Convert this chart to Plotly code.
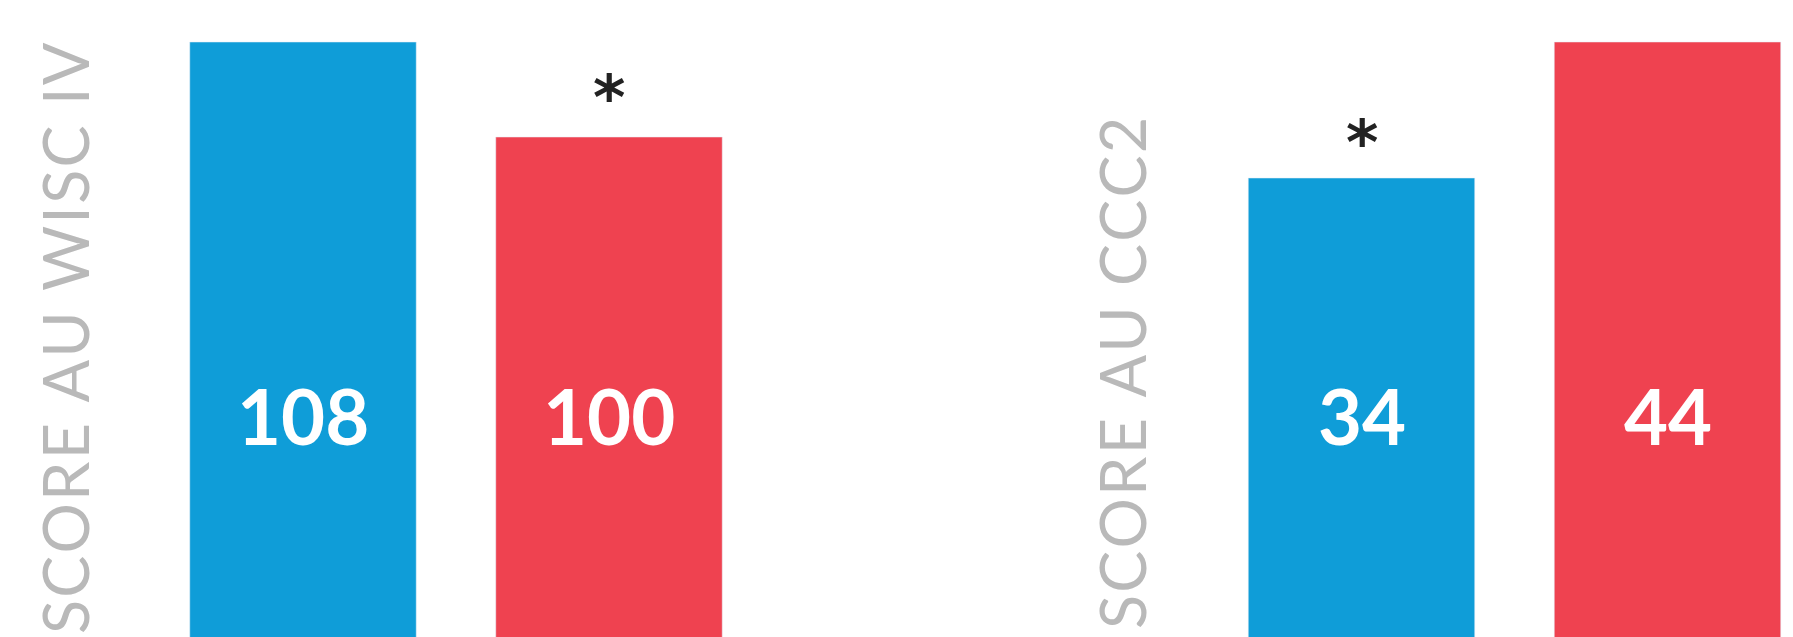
import plotly.graph_objects as go

# Data
groups = ["Groupe 1", "Groupe 2"]
wisc_values = [108, 100]
ccc2_values = [34, 44]
wisc_stars = ["", "*"]
ccc2_stars = ["*", ""]
titles = ["SCORE AU WISC IV", "SCORE AU CCC2"]

BLUE = "#0f9dd8"
RED = "#ef4250"
GRAY = "#b9b9b9"
W, H = 1793, 637


def spaced(s):
    # mimic the wide letter spacing of the original with small hair spaces
    sep = "<span style='font-size:34px'>\u200a</span>"
    return sep.join(s)


fig = go.Figure()
xpos = [0, 1]
fig.add_trace(go.Bar(x=xpos, y=wisc_values, marker_color=[BLUE, RED], width=0.74,
                     xaxis="x", yaxis="y", hoverinfo="skip"))
fig.add_trace(go.Bar(x=xpos, y=ccc2_values, marker_color=[BLUE, RED], width=0.74,
                     xaxis="x2", yaxis="y2", hoverinfo="skip"))

annotations = []
for ax, vals, stars in [("", wisc_values, wisc_stars), ("2", ccc2_values, ccc2_stars)]:
    for i, v in enumerate(vals):
        annotations.append(dict(x=xpos[i], xref="x" + ax, y=1 - 415 / H, yref="paper",
                                text=str(v), showarrow=False, xanchor="center", yanchor="middle",
                                font=dict(family="Lato", size=76, color="white", weight="bold")))
        if stars[i]:
            annotations.append(dict(x=xpos[i], xref="x" + ax, y=v, yref="y" + ax,
                                    text=stars[i], showarrow=False, xanchor="center", yanchor="bottom",
                                    yshift=1 if ax == "" else -3,
                                    font=dict(family="DejaVu Sans", size=62, color="#222222", weight="bold")))

annotations.append(dict(x=64 / W, xref="paper", y=1 - 40 / H, yref="paper", text=spaced(titles[0]),
                        textangle=-90, showarrow=False, xanchor="center", yanchor="top",
                        font=dict(family="Lato", size=63, color=GRAY)))
annotations.append(dict(x=1121 / W, xref="paper", y=1 - 115 / H, yref="paper", text=spaced(titles[1]),
                        textangle=-90, showarrow=False, xanchor="center", yanchor="top",
                        font=dict(family="Lato", size=63, color=GRAY)))

d2_start = 1208.5 / W
fig.update_layout(
    width=W, height=H,
    margin=dict(l=0, r=0, t=0, b=0),
    paper_bgcolor="white", plot_bgcolor="white",
    showlegend=False,
    xaxis=dict(domain=[150 / W, 762 / W], range=[-0.5, 1.5], visible=False),
    yaxis=dict(domain=[0, 1], range=[57.9, 111.54], visible=False),
    xaxis2=dict(domain=[d2_start, 1.0], range=[-0.5, -0.5 + (W - 1208.5) / 306], visible=False),
    yaxis2=dict(domain=[0, 1], range=[0.25, 47.09], visible=False, anchor="x2"),
    annotations=annotations,
)

fig.write_html("out.html")
